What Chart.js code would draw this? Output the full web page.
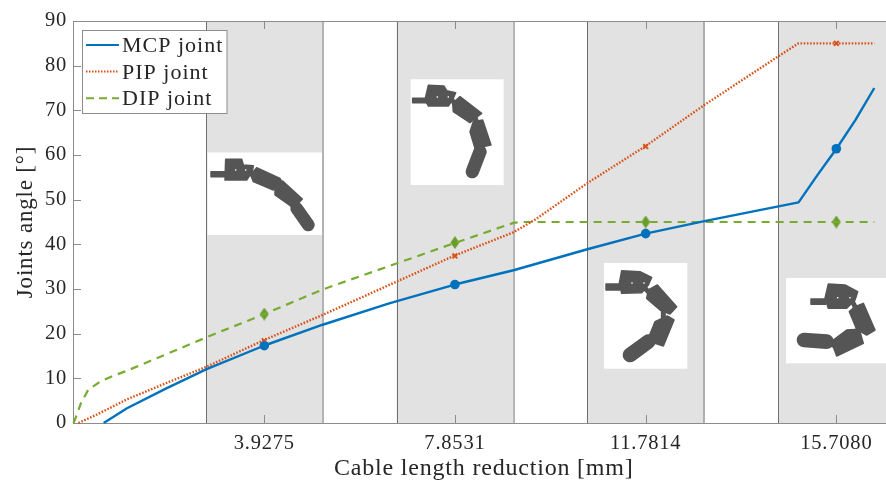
<!DOCTYPE html>
<html>
<head>
<meta charset="utf-8">
<title>Joints angle vs cable length reduction</title>
<script src="https://cdn.jsdelivr.net/npm/chart.js@4"></script>
<style>
  html, body { margin: 0; padding: 0; background: #fff; overflow: hidden; }
  /* the original axes run past the right edge of the picture, so the canvas is cropped */
  #wrap { position: relative; width: 886px; height: 483px; overflow: hidden; }
</style>
</head>
<body>
<div id="wrap"><canvas id="chart" width="900" height="483"></canvas></div>
<script>
const xTicks = [3.9275, 7.8531, 11.7814, 15.7080];
const yTicks = [0, 10, 20, 30, 40, 50, 60, 70, 80, 90];

const mcpX = [0.62, 1.1, 1.9, 2.74, 3.93, 5.13, 6.5, 7.85, 9.06, 10.58, 11.78, 12.99, 14.93, 15.3, 15.71, 16.1, 16.49];
const mcpY = [0, 3.3, 7.7, 12.05, 17.35, 22.0, 26.8, 31, 34.2, 38.9, 42.4, 45.2, 49.4, 55.2, 61.4, 67.8, 75];

const pipX = [0.1, 0.5, 1.1, 1.9, 2.74, 3.93, 5.13, 7.85, 9.06, 9.5, 10.58, 11.78, 12.99, 14.5, 14.93, 15.71, 16.49];
const pipY = [0, 2, 5.3, 8.9, 12.6, 18.6, 24.2, 37.5, 42.7, 45.5, 53.7, 62, 71.2, 82, 85, 85, 85];

const dipX = [0, 0.05, 0.15, 0.3, 0.55, 0.8, 1.1, 2.74, 3.93, 5.13, 7.85, 9.06, 9.2, 12, 16.49];
const dipY = [0, 1.4, 4.4, 7.4, 9.3, 10.5, 11.7, 19.2, 24.4, 29.9, 40.3, 44.8, 45, 45, 45];

const mcpMarks = [17.3, 31, 42.4, 61.4];
const pipMarks = [18.4, 37.4, 61.9, 85];
const dipMarks = [24.4, 40.4, 45, 45];

const legendLabels = ["MCP joint", "PIP joint", "DIP joint"];

const BLUE = "#0072BD", RED = "#D95319", GREEN = "#77AC30";
const TEXT = "#262626", AXIS = "#8c8c8c", BAND_EDGE = "#6e6e6e";
const SERIF = "'Liberation Serif', serif";
const bandHalf = 1.2;

function pairs(xs, ys) { return xs.map((x, i) => ({ x: x, y: ys[i] })); }

// finger pictures, traced in 3x crop coordinates: [ox, oy] maps them to the page
const fingers = [
  { box: [207.5, 152.5, 114.5, 82.5], ox: 60, oy: 0, dots: [[527, 510], [557, 510]],
    polys: [
      [[453,515],[497,515],[497,530],[453,530]],
      [[497,478],[545,478],[550,495],[580,497],[577,515],[560,540],[495,540]],
      [[590,503],[660,535],[665,545],[640,570],[580,545],[572,525]],
      [[668,543],[727,597],[715,610],[695,620],[645,585],[645,570]]
    ],
    joints: [[[570,520],[600,530]], [[650,555],[665,565]], [[700,605],[715,630]]],
    tip: [[710,625],[745,675],19] },
  { box: [410.7, 79.3, 93, 105.7], ox: 390, oy: 0, dots: [[142, 291], [175, 291]],
    polys: [
      [[68,295],[112,295],[112,308],[68,308]],
      [[115,256],[162,258],[170,272],[197,278],[190,295],[175,318],[115,318],[105,300]],
      [[210,290],[275,340],[262,350],[240,368],[190,335],[188,310]],
      [[278,360],[303,435],[255,445],[240,395],[250,365]]
    ],
    joints: [[[185,300],[205,320]], [[255,350],[262,375]], [[265,435],[270,455]]],
    tip: [[270,455],[247,515],20] },
  { box: [604, 263, 83.3, 105.7], ox: 580, oy: 240, dots: [[156, 129], [192, 129]],
    polys: [
      [[78,132],[122,132],[122,150],[78,150]],
      [[125,92],[180,95],[215,112],[205,135],[185,158],[125,160],[118,130]],
      [[232,135],[290,200],[270,222],[240,210],[200,175],[205,150]],
      [[262,228],[282,240],[250,318],[225,310],[205,295],[225,245]]
    ],
    joints: [[[190,140],[215,165]], [[250,210],[250,240]], [[225,295],[205,305]]],
    tip: [[205,305],[150,345],22] },
  { box: [786, 278, 100, 85.3], ox: 580, oy: 240, dots: [[773, 173], [810, 173]],
    polys: [
      [[693,177],[737,177],[737,193],[693,193]],
      [[745,132],[795,135],[833,155],[825,180],[800,205],[745,205],[735,175]],
      [[850,190],[885,270],[860,285],[830,268],[808,215],[825,200]],
      [[838,268],[850,310],[770,348],[758,315],[760,300],[800,270]]
    ],
    joints: [[[815,180],[830,210]], [[835,265],[830,285]], [[770,320],[740,305]]],
    tip: [[740,305],[672,300],22] }
];

function drawFinger(ctx, f) {
  const px = p => [f.ox + p[0] / 3, f.oy + p[1] / 3];
  ctx.fillStyle = "#ffffff";
  ctx.fillRect(f.box[0], f.box[1], f.box[2], f.box[3]);
  ctx.fillStyle = "#555555";
  ctx.strokeStyle = "#555555";
  ctx.lineJoin = "round";
  ctx.lineCap = "round";
  f.polys.forEach(poly => {
    ctx.beginPath();
    poly.forEach((p, i) => {
      const q = px(p);
      if (i) ctx.lineTo(q[0], q[1]); else ctx.moveTo(q[0], q[1]);
    });
    ctx.closePath();
    ctx.lineWidth = 1.5;
    ctx.fill();
    ctx.stroke();
  });
  ctx.lineWidth = 5;
  f.joints.forEach(j => {
    const a = px(j[0]), b = px(j[1]);
    ctx.beginPath();
    ctx.moveTo(a[0], a[1]);
    ctx.lineTo(b[0], b[1]);
    ctx.stroke();
  });
  const a = px(f.tip[0]), b = px(f.tip[1]);
  ctx.lineWidth = f.tip[2] * 2 / 3;
  ctx.beginPath();
  ctx.moveTo(a[0], a[1]);
  ctx.lineTo(b[0], b[1]);
  ctx.stroke();
  ctx.fillStyle = "#ffffff";
  f.dots.forEach(d => {
    const q = px(d);
    ctx.fillRect(q[0] - 0.7, q[1] - 0.7, 1.4, 1.4);
  });
}

const bandsPlugin = {
  id: "bands",
  beforeDatasetsDraw(chart) {
    const { ctx, chartArea: a, scales: { x } } = chart;
    ctx.save();
    xTicks.forEach(t => {
      const l = x.getPixelForValue(t - bandHalf), r = x.getPixelForValue(t + bandHalf);
      ctx.fillStyle = "#e2e2e2";
      ctx.fillRect(l, a.top, r - l, a.bottom - a.top);
      ctx.strokeStyle = BAND_EDGE;
      ctx.lineWidth = 1;
      ctx.strokeRect(Math.round(l) + 0.5, a.top + 0.5, r - l, a.bottom - a.top);
    });
    // box and inward ticks
    ctx.strokeStyle = AXIS;
    ctx.beginPath();
    ctx.moveTo(a.left + 0.5, a.top + 0.5);
    ctx.lineTo(a.left + 0.5, a.bottom + 0.5);
    ctx.lineTo(a.right, a.bottom + 0.5);
    ctx.moveTo(a.left, a.top + 0.5);
    ctx.lineTo(a.right, a.top + 0.5);
    xTicks.forEach(t => {
      const p = Math.round(x.getPixelForValue(t)) + 0.5;
      ctx.moveTo(p, a.bottom);
      ctx.lineTo(p, a.bottom - 8);
      ctx.moveTo(p, a.top);
      ctx.lineTo(p, a.top + 8);
    });
    yTicks.forEach(t => {
      const p = Math.round(chart.scales.y.getPixelForValue(t)) + 0.5;
      ctx.moveTo(a.left, p);
      ctx.lineTo(a.left + 8, p);
    });
    ctx.stroke();
    fingers.forEach(f => drawFinger(ctx, f));
    ctx.restore();
  },
  afterDraw(chart) {
    const ctx = chart.ctx;
    ctx.save();
    ctx.fillStyle = "#ffffff";
    ctx.strokeStyle = AXIS;
    ctx.lineWidth = 1;
    ctx.fillRect(83, 30, 144, 83);
    ctx.strokeRect(83 - 0.5, 30 + 0.5, 144.5, 83);
    const styles = [[BLUE, []], [RED, [1.5, 1.5]], [GREEN, [8, 5]]];
    legendLabels.forEach((label, i) => {
      const y = 45 + i * 26.6;
      ctx.strokeStyle = styles[i][0];
      ctx.lineWidth = 2;
      ctx.setLineDash(styles[i][1]);
      ctx.beginPath();
      ctx.moveTo(86, y);
      ctx.lineTo(119, y);
      ctx.stroke();
      ctx.setLineDash([]);
      ctx.fillStyle = TEXT;
      ctx.font = "22px " + SERIF;
      ctx.letterSpacing = "1px";
      ctx.textAlign = "left";
      ctx.textBaseline = "alphabetic";
      ctx.fillText(label, 122, y + 7);
    });
    ctx.restore();
  }
};

const spacingPlugin = {
  id: "spacing",
  beforeDraw(chart) { chart.ctx.letterSpacing = "0.8px"; }
};

// tall narrow diamond used for the DIP markers
function diamondMark(color) {
  const c = document.createElement("canvas");
  c.width = 10;
  c.height = 13;
  const g = c.getContext("2d");
  g.fillStyle = color;
  g.beginPath();
  g.moveTo(5, 0);
  g.lineTo(9.5, 6.5);
  g.lineTo(5, 13);
  g.lineTo(0.5, 6.5);
  g.closePath();
  g.fill();
  return c;
}

function lineSet(label, xs, ys, color, dash, width) {
  return {
    label: label, data: pairs(xs, ys), showLine: true, borderColor: color,
    borderWidth: width, borderDash: dash, pointRadius: 0, tension: 0,
    borderJoinStyle: "round", clip: false
  };
}
function markSet(label, ys, color, style, r) {
  return {
    label: label, data: pairs(xTicks, ys), showLine: false, pointStyle: style,
    pointRadius: r, pointHoverRadius: r, backgroundColor: color, borderColor: color,
    borderWidth: style === "crossRot" ? 2 : 0
  };
}

new Chart(document.getElementById("chart").getContext("2d"), {
  type: "scatter",
  data: {
    datasets: [
      lineSet("MCP joint", mcpX, mcpY, BLUE, [], 2.4),
      lineSet("PIP joint", pipX, pipY, RED, [1.6, 1.6], 2.4),
      lineSet("DIP joint", dipX, dipY, GREEN, [8, 6], 2.2),
      markSet("MCP", mcpMarks, BLUE, "circle", 4.8),
      markSet("PIP", pipMarks, RED, "crossRot", 3.4),
      markSet("DIP", dipMarks, "#6a9e2a", diamondMark("#6a9e2a"), 5)
    ]
  },
  plugins: [spacingPlugin, bandsPlugin],
  options: {
    responsive: false,
    animation: false,
    devicePixelRatio: 1,
    layout: { padding: { top: 21, right: 0, left: 0, bottom: 0 } },
    plugins: { legend: { display: false }, tooltip: { enabled: false } },
    scales: {
      x: {
        type: "linear", min: -0.012, max: 16.908,
        afterBuildTicks(s) { s.ticks = xTicks.map(v => ({ value: v })); },
        afterFit(s) { s.height = 60; s.paddingLeft = 0; s.paddingRight = 0; },
        grid: { display: false, drawTicks: false },
        border: { display: false },
        ticks: {
          color: TEXT, padding: 8, maxRotation: 0, autoSkip: false,
          font: { family: SERIF, size: 20.5 },
          callback: v => v.toFixed(4)
        },
        title: {
          display: true, text: "Cable length reduction [mm]", color: TEXT,
          font: { family: SERIF, size: 24 }, padding: { top: 6, bottom: 0 }
        }
      },
      y: {
        type: "linear", min: 0, max: 90,
        afterBuildTicks(s) { s.ticks = yTicks.map(v => ({ value: v })); },
        afterFit(s) { s.width = 73; s.paddingTop = 0; s.paddingBottom = 0; },
        grid: { display: false, drawTicks: false },
        border: { display: false },
        ticks: {
          color: TEXT, padding: 6, autoSkip: false,
          font: { family: SERIF, size: 20.5 }
        },
        title: {
          display: true, text: "Joints angle [°]", color: TEXT,
          font: { family: SERIF, size: 23 }, padding: { top: 12, bottom: 0 }
        }
      }
    }
  }
});
</script>
</body>
</html>
